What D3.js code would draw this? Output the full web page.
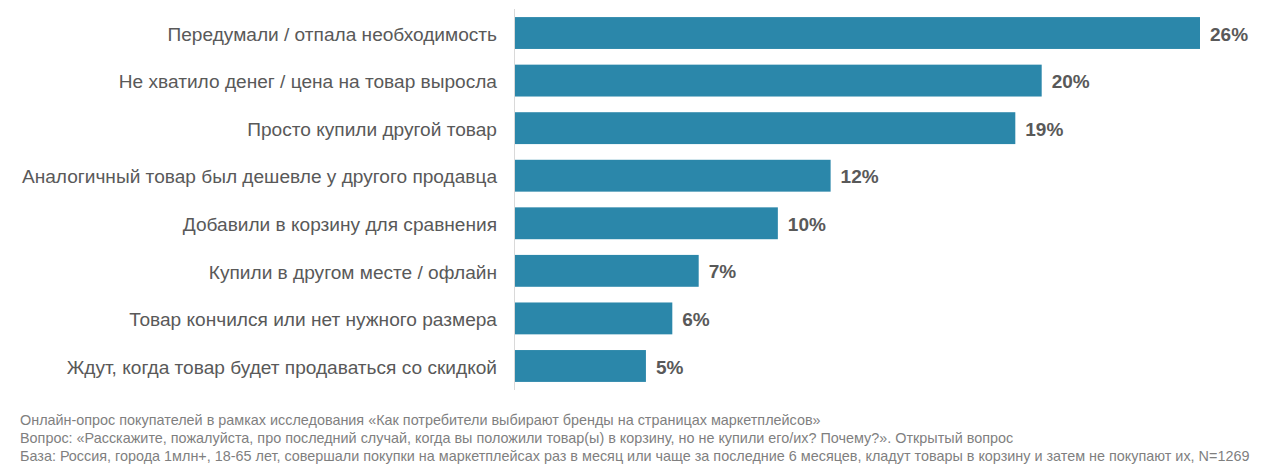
<!DOCTYPE html>
<html><head><meta charset="utf-8">
<script src="https://cdn.jsdelivr.net/npm/d3@7"></script>
<style>body{margin:0;background:#fff}svg{display:block}</style>
</head><body><svg id="c" width="1280" height="469"></svg>
<script>
const categories = [
  "Передумали / отпала необходимость",
  "Не хватило денег / цена на товар выросла",
  "Просто купили другой товар",
  "Аналогичный товар был дешевле у другого продавца",
  "Добавили в корзину для сравнения",
  "Купили в другом месте / офлайн",
  "Товар кончился или нет нужного размера",
  "Ждут, когда товар будет продаваться со скидкой"
];
const values = [26, 20, 19, 12, 10, 7, 6, 5];
const footnotes = [
  "Онлайн-опрос покупателей в рамках исследования «Как потребители выбирают бренды на страницах маркетплейсов»",
  "Вопрос: «Расскажите, пожалуйста, про последний случай, когда вы положили товар(ы) в корзину, но не купили его/их? Почему?». Открытый вопрос",
  "База: Россия, города 1млн+, 18-65 лет, совершали покупки на маркетплейсах раз в месяц или чаще за последние 6 месяцев, кладут товары в корзину и затем не покупают их, N=1269"
];

const svg = d3.select("#c");
const x0 = 514;
const x = d3.scaleLinear().domain([0, 26]).range([x0, 1200]);
const y = d3.scaleBand().domain(categories).range([9, 390]).paddingInner(0.33).paddingOuter(0.17);

svg.append("line").attr("x1", x0 + 0.5).attr("x2", x0 + 0.5).attr("y1", 9).attr("y2", 390)
  .attr("stroke", "#d9d9d9").attr("stroke-width", 1);

svg.selectAll("rect.bar").data(values).join("rect").attr("class", "bar")
  .attr("x", x0 + 1).attr("y", (d, i) => y(categories[i]))
  .attr("width", d => x(d) - x0 - 1).attr("height", y.bandwidth())
  .attr("fill", "#2b87aa");

svg.selectAll("text.cat").data(categories).join("text").attr("class", "cat")
  .attr("x", 497).attr("y", d => y(d) + y.bandwidth() / 2 + 1).attr("dy", "0.35em")
  .attr("text-anchor", "end").attr("font-family", "Liberation Sans, Arial, sans-serif")
  .attr("font-size", 19.1).attr("fill", "#595959").text(d => d);

svg.selectAll("text.val").data(values).join("text").attr("class", "val")
  .attr("x", d => x(d) + 10).attr("y", (d, i) => y(categories[i]) + y.bandwidth() / 2 + 1).attr("dy", "0.35em")
  .attr("font-family", "Liberation Sans, Arial, sans-serif").attr("font-weight", "bold")
  .attr("font-size", 19).attr("fill", "#595959").text(d => d + "%");

svg.selectAll("text.fn").data(footnotes).join("text").attr("class", "fn")
  .attr("x", 20).attr("y", (d, i) => 425 + i * 18)
  .attr("font-family", "Liberation Sans, Arial, sans-serif").attr("font-size", 14.4)
  .attr("fill", "#7f7f7f").text(d => d);
</script></body></html>
